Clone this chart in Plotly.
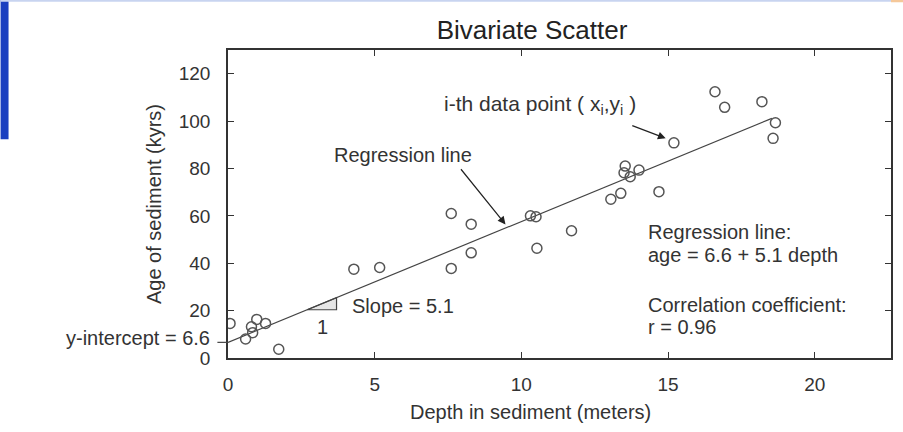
import plotly.graph_objects as go

# Data
depth = [0.07, 0.6, 0.84, 0.8, 0.98, 1.28, 1.73, 4.29, 5.17, 7.61, 7.61, 8.29, 8.29,
         10.31, 10.5, 10.53, 11.71, 13.05, 13.39, 13.54, 13.5, 13.71, 14.01, 14.69,
         15.2, 16.6, 16.93, 18.2, 18.66, 18.58]
age = [14.6, 8.0, 10.7, 13.2, 16.3, 14.6, 3.7, 37.5, 38.2, 61.0, 37.8, 56.5, 44.4,
       60.0, 59.6, 46.3, 53.7, 67.0, 69.5, 81.0, 78.2, 76.5, 79.3, 70.2,
       90.8, 112.4, 105.8, 108.2, 99.3, 92.7]
intercept = 6.6
slope = 5.1
line_x = [0, 18.54]
x_ticks = [0, 5, 10, 15, 20]
y_ticks = [0, 20, 40, 60, 80, 100, 120]

FONT = "Liberation Sans, Arial, sans-serif"
TXT = "#333333"
AX = "#333333"

fig = go.Figure()

# slope triangle
tri_x = [2.7, 3.7, 3.7, 2.7]
tri_y = [intercept + slope * 2.7, intercept + slope * 2.7, intercept + slope * 3.7, intercept + slope * 2.7]
fig.add_trace(go.Scatter(x=tri_x, y=tri_y, mode="lines", fill="toself",
                         fillcolor="#e6e6e6", line=dict(color="#444444", width=1.2),
                         hoverinfo="skip", showlegend=False))

# regression line
fig.add_trace(go.Scatter(x=line_x, y=[intercept + slope * v for v in line_x], mode="lines",
                         line=dict(color="#444444", width=1.2), showlegend=False))

# data points
fig.add_trace(go.Scatter(x=depth, y=age, mode="markers",
                         marker=dict(symbol="circle-open", size=10,
                                     line=dict(color="#555555", width=1.5), color="#555555"),
                         showlegend=False))

ann_font = dict(family=FONT, size=20, color=TXT)
annotations = [
    dict(x=5.95, y=85.6, xref="x", yref="y", text="Regression line", showarrow=False, font=ann_font),
    dict(x=9.46, y=56.4, ax=7.9, ay=80.3, axref="x", ayref="y", xref="x", yref="y",
         text="", showarrow=True, arrowhead=2, arrowsize=1.3, arrowwidth=1.2, arrowcolor="#222222"),
    dict(x=7.31, y=106.7, xref="x", yref="y", xanchor="left",
         text="i-th data point ( x<sub>i</sub>,y<sub>i</sub> )", showarrow=False,
         font=dict(family=FONT, size=21, color=TXT)),
    dict(x=14.92, y=92.7, ax=13.73, ay=98.3, axref="x", ayref="y", xref="x", yref="y",
         text="", showarrow=True, arrowhead=2, arrowsize=1.3, arrowwidth=1.2, arrowcolor="#222222"),
    dict(x=14.25, y=53.2, xref="x", yref="y", xanchor="left",
         text="Regression line:", showarrow=False, font=ann_font),
    dict(x=14.25, y=43.5, xref="x", yref="y", xanchor="left",
         text="age = 6.6 + 5.1 depth", showarrow=False, font=ann_font),
    dict(x=14.25, y=22.4, xref="x", yref="y", xanchor="left",
         text="Correlation coefficient:", showarrow=False, font=ann_font),
    dict(x=14.25, y=13.1, xref="x", yref="y", xanchor="left",
         text="r = 0.96", showarrow=False, font=ann_font),
    dict(x=4.15, y=21.9, xref="x", yref="y", xanchor="left", text="Slope = 5.1",
         showarrow=False, font=ann_font),
    dict(x=3.22, y=13.0, xref="x", yref="y", text="1", showarrow=False, font=ann_font),
    dict(x=-0.024, y=0.066, xref="paper", yref="paper", xanchor="right", yanchor="middle",
         text="y-intercept = 6.6", showarrow=False, font=ann_font),
    # x-axis title (centred slightly left of the plot centre, as in the source)
    dict(x=0.457, y=-0.175, xref="paper", yref="paper", xanchor="center", yanchor="middle",
         text="Depth in sediment (meters)", showarrow=False, font=ann_font),
]

shapes = [
    # intercept tick left of the axis
    dict(type="line", xref="paper", yref="y", x0=-0.016, x1=0, y0=intercept, y1=intercept,
         line=dict(color="#444444", width=1.2)),
    # slide decoration (blue bar left, thin top line, orange corner)
    dict(type="rect", xref="paper", yref="paper", x0=-0.343, x1=-0.331, y0=0.71, y1=1.165,
         fillcolor="#1a3fc0", line=dict(width=0), layer="above"),
    dict(type="rect", xref="paper", yref="paper", x0=-0.343, x1=1.02, y0=1.157, y1=1.165,
         fillcolor="#c8d4f0", line=dict(width=0), layer="above"),
    dict(type="rect", xref="paper", yref="paper", x0=1.0, x1=1.02, y0=1.155, y1=1.165,
         fillcolor="#f5c89a", line=dict(width=0), layer="above"),
]

fig.update_layout(
    width=903, height=432,
    margin=dict(l=228, r=10, t=50, b=74),
    paper_bgcolor="white", plot_bgcolor="white",
    title=dict(text="Bivariate Scatter", x=532 / 903, xanchor="center", y=0.93, yanchor="middle",
               font=dict(family=FONT, size=26, color="#222222")),
    font=dict(family=FONT, size=19, color=TXT),
    annotations=annotations, shapes=shapes, showlegend=False,
)
fig.update_xaxes(range=[0, 22.6], tickvals=x_ticks, ticks="inside", ticklen=6, tickwidth=1.2,
                 tickcolor=AX, showline=True, linecolor=AX, linewidth=1.5, mirror="ticks",
                 showgrid=False, zeroline=False, ticklabelstandoff=8,
                 tickfont=dict(family=FONT, size=19, color=TXT))
fig.update_yaxes(range=[0, 130], tickvals=y_ticks, ticks="inside", ticklen=6, tickwidth=1.2,
                 tickcolor=AX, showline=True, linecolor=AX, linewidth=1.5, mirror="ticks",
                 showgrid=False, zeroline=False, ticklabelstandoff=12,
                 title=dict(text="Age of sediment (kyrs)", font=dict(family=FONT, size=20, color=TXT),
                            standoff=12),
                 tickfont=dict(family=FONT, size=19, color=TXT))

fig.write_html("out.html")
